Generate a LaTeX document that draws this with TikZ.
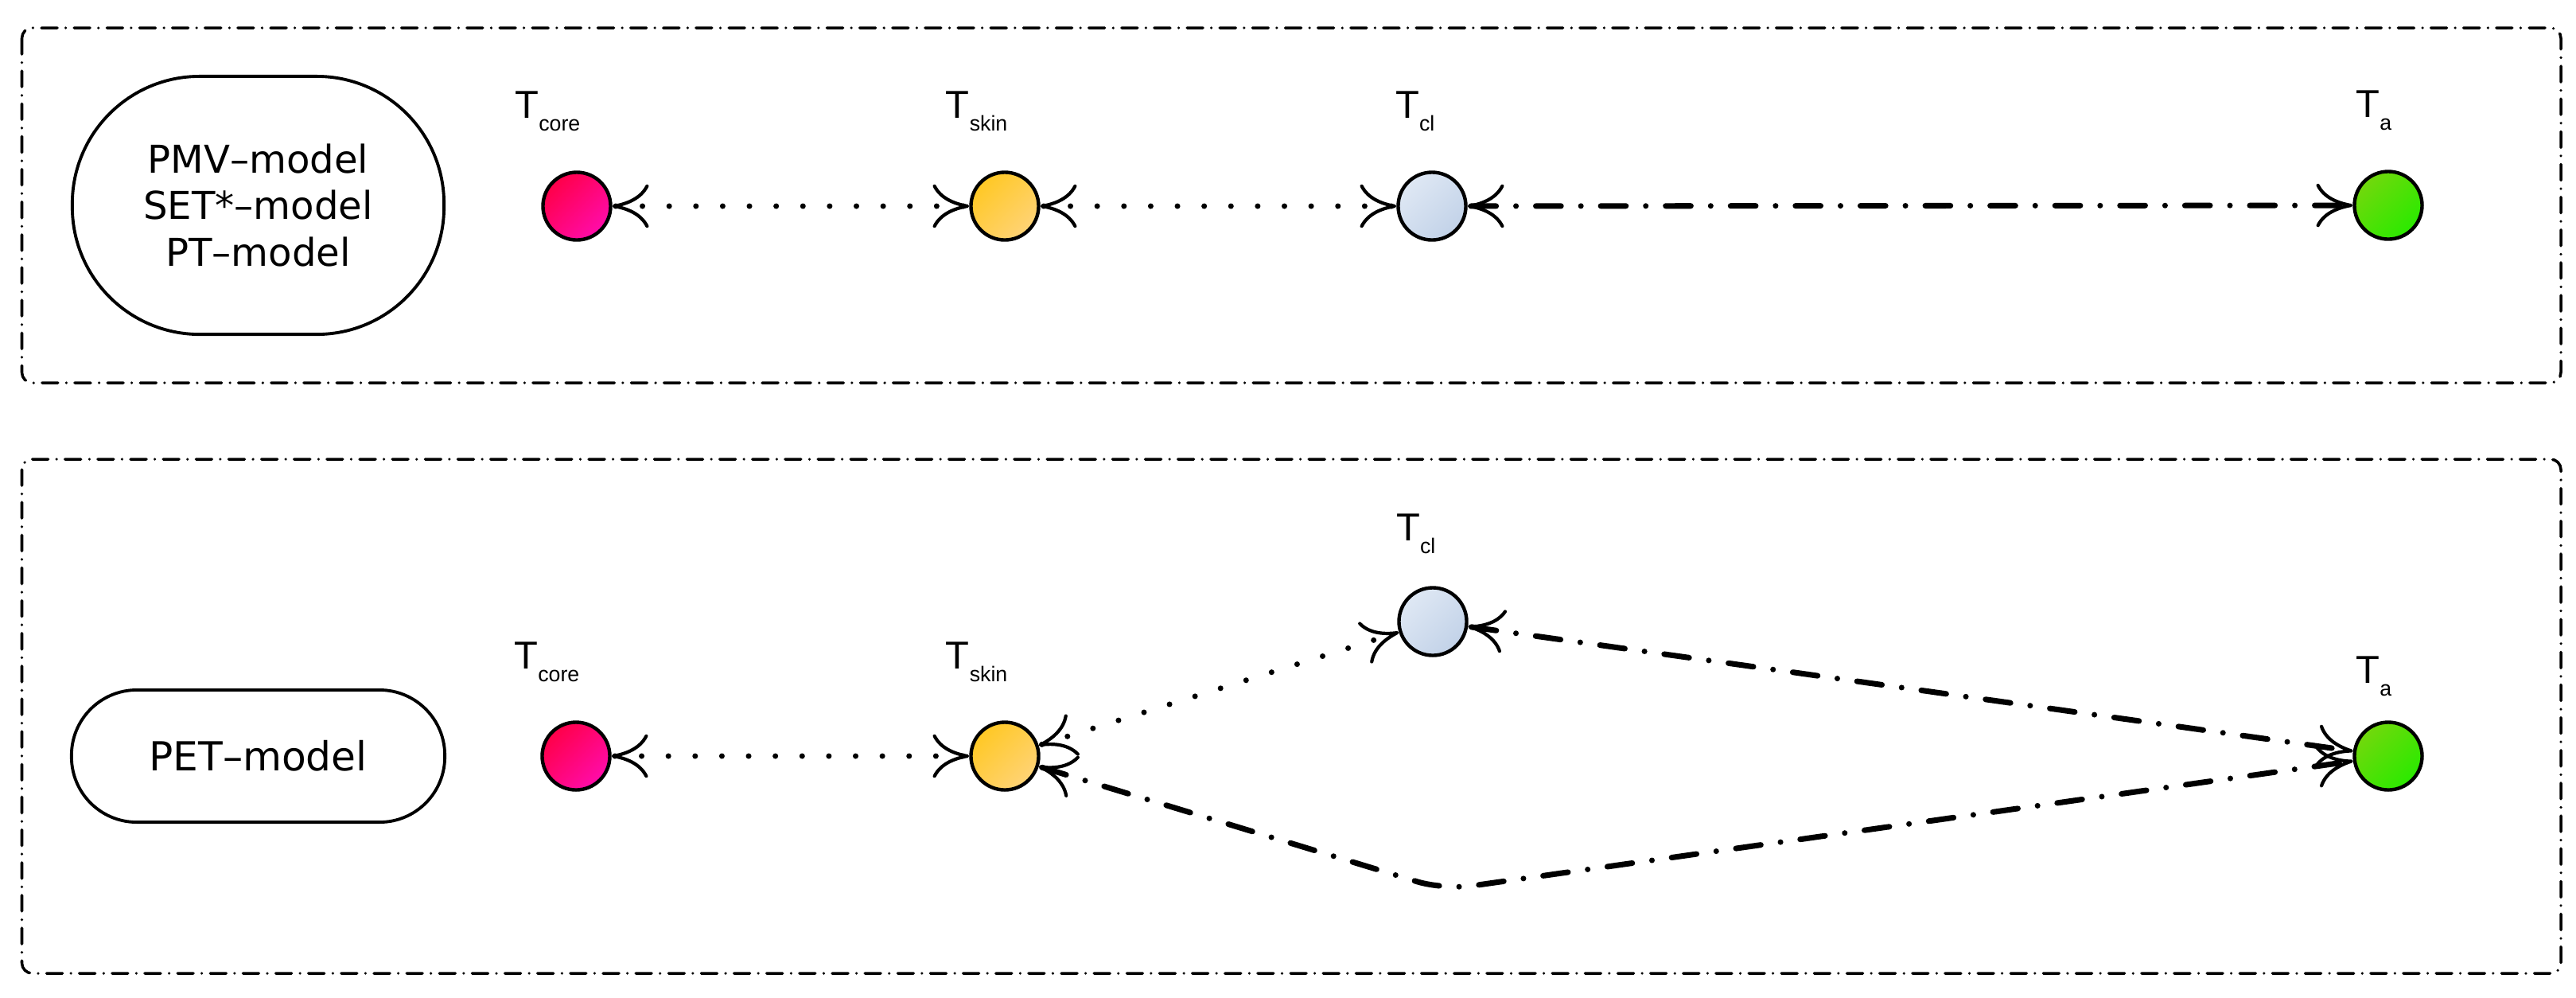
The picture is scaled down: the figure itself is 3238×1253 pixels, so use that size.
\documentclass[tikz,border=0pt]{standalone}
\usepackage{fontspec}
\setmainfont{Liberation Sans}
\newfontfamily\modelfont{DejaVu Sans}
\usetikzlibrary{arrows.meta}
\definecolor{coreA}{HTML}{FF0048}
\definecolor{coreB}{HTML}{FF0CAA}
\definecolor{skinA}{HTML}{FFC824}
\definecolor{skinB}{HTML}{FFD376}
\definecolor{clA}{HTML}{DFE8F4}
\definecolor{clB}{HTML}{C2D2E8}
\definecolor{aA}{HTML}{72D80C}
\definecolor{aB}{HTML}{2AEA00}
\newcommand\Tlab[1]{T\raisebox{-4.7pt}{\fontsize{7.6pt}{8pt}\selectfont #1}}
\begin{document}
\begin{tikzpicture}[x=0.01cm,y=-0.01cm,
  >={Computer Modern Rightarrow[length=13pt,width=15.5pt,line width=1.2pt]},
  panel/.style={line width=1pt, dash pattern=on 5.7pt off 3pt on 0pt off 3pt, line cap=round, rounded corners=0.13cm},
  temp/.style={circle, draw, line width=1.25pt, minimum size=0.85cm, inner sep=0pt},
  coreshade/.style={top color=coreA, bottom color=coreB, shading angle=45},
  skinshade/.style={top color=skinA, bottom color=skinB, shading angle=45},
  clshade/.style={top color=clA, bottom color=clB, shading angle=45},
  ashade/.style={top color=aA, bottom color=aB, shading angle=45},
  model/.style={draw, line width=1.1pt, rectangle, align=center, inner sep=0pt, font=\modelfont\fontsize{13.7pt}{16.5pt}\selectfont},
  lbl/.style={inner sep=0pt, anchor=base east, font=\fontsize{13.9pt}{16pt}\selectfont},
  dotline/.style={line width=2pt, line cap=round, dash pattern=on 0pt off 9.56pt},
  dashline/.style={line width=2pt, line cap=round, dash pattern=on 9pt off 7.1pt on 0pt off 7.1pt},
]
\fill[white] (0,0) rectangle (3238,1253);
\useasboundingbox (0,0) rectangle (3238,1253);

% panels
\draw[panel] (27.5,35) rectangle (3219,481);
\draw[panel] (27.5,577) rectangle (3219,1223);

% model boxes
\node[model, minimum width=4.67cm, minimum height=3.24cm, rounded corners=1.6cm] (m1) at (324.5,258) {PMV–model\\SET*–model\\PT–model};
\node[model, minimum width=4.69cm, minimum height=1.66cm, rounded corners=0.82cm, font=\modelfont\fontsize{14.3pt}{17pt}\selectfont] (m2) at (324.5,950) {PET–model};

% top row
\node[temp, coreshade] (tcore) at (725,259) {};
\node[temp, skinshade] (tskin) at (1263,259) {};
\node[temp, clshade] (tcl) at (1800,259) {};
\node[temp, ashade] (ta) at (3002,258) {};
\node[lbl] (ltcore) at ([shift={(5,-111)}]tcore.center) {\Tlab{core}};
\node[lbl] (ltskin) at ([shift={(4,-111)}]tskin.center) {\Tlab{skin}};
\node[lbl] (ltcl) at ([shift={(4,-111)}]tcl.center) {\Tlab{cl}};
\node[lbl] (lta) at ([shift={(5,-111)}]ta.center) {\Tlab{a}};

\draw[dotline,<->] (tcore) -- (tskin);
\draw[dotline,<->] (tskin) -- (tcl);
\draw[dashline,<->] (tcl) -- (ta);

% bottom row
\node[temp, coreshade] (bcore) at (724,950) {};
\node[temp, skinshade] (bskin) at (1263,950) {};
\node[temp, clshade] (bcl) at (1801,781) {};
\node[temp, ashade] (ba) at (3002,950) {};
\node[lbl] (lbcore) at ([shift={(5,-110)}]bcore.center) {\Tlab{core}};
\node[lbl] (lbskin) at ([shift={(4,-110)}]bskin.center) {\Tlab{skin}};
\node[lbl] (lbcl) at ([shift={(4,-102)}]bcl.center) {\Tlab{cl}};
\node[lbl] (lba) at ([shift={(5,-92)}]ba.center) {\Tlab{a}};
\coordinate (bot) at (1815,1118);

\draw[dotline,<->] (bcore) -- (bskin);
\draw[dotline,<->] (bskin) -- (bcl);
\draw[dashline,<->] (bcl) -- (ba);
\draw[dashline,<->,rounded corners=0.35cm] (bskin) -- (bot) -- (ba);
\end{tikzpicture}
\end{document}
